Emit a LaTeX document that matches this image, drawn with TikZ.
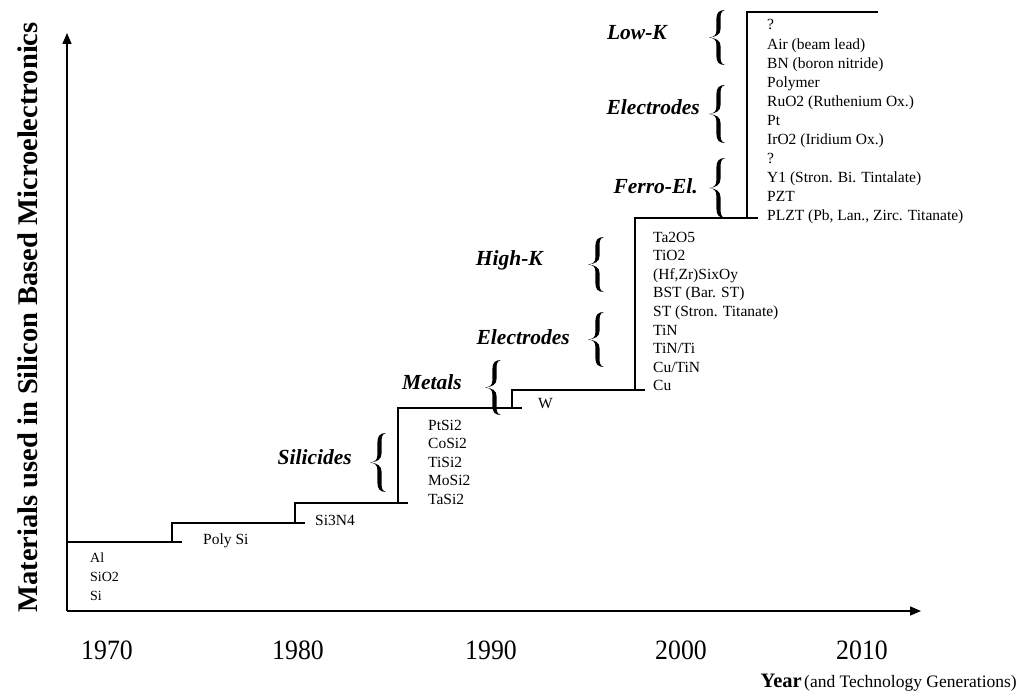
\documentclass[tikz,border=0pt]{standalone}
\usepackage{fontspec}
\setmainfont{Liberation Serif}
\usetikzlibrary{arrows.meta}
% filled curly brace: #1 = stem x, #2 = top y, #3 = bottom y (y grows downward)
\newcommand\brc[3]{%
 \pgfmathsetmacro\bm{(#2+#3)/2}%
 \pgfmathsetmacro\bh{#3-#2}%
 \fill[black] ({#1+7},#2) .. controls ({#1+1},{#2}) and ({#1-1.6},{#2+0.05*\bh}) .. ({#1-1.6},{#2+0.16*\bh})
   -- ({#1-1.6},{\bm-0.13*\bh}) .. controls ({#1-1.6},{\bm-0.04*\bh}) and ({#1-4},{\bm-0.012*\bh}) .. ({#1-9},\bm)
   .. controls ({#1-4},{\bm+0.012*\bh}) and ({#1-1.6},{\bm+0.04*\bh}) .. ({#1-1.6},{\bm+0.13*\bh})
   -- ({#1-1.6},{#3-0.16*\bh}) .. controls ({#1-1.6},{#3-0.05*\bh}) and ({#1+1},#3) .. ({#1+7},#3)
   .. controls ({#1+2.6},{#3-0.02*\bh}) and ({#1+2.6},{#3-0.08*\bh}) .. ({#1+2.6},{#3-0.16*\bh})
   -- ({#1+2.6},{\bm+0.16*\bh}) .. controls ({#1+2.6},{\bm+0.05*\bh}) and ({#1-2},{\bm+0.012*\bh}) .. ({#1-9},\bm)
   .. controls ({#1-2},{\bm-0.012*\bh}) and ({#1+2.6},{\bm-0.05*\bh}) .. ({#1+2.6},{\bm-0.16*\bh})
   -- ({#1+2.6},{#2+0.16*\bh}) .. controls ({#1+2.6},{#2+0.08*\bh}) and ({#1+2.6},{#2+0.02*\bh}) .. ({#1+7},#2) -- cycle;}
\begin{document}
\begin{tikzpicture}[x=1pt,y=-1pt,
  item/.style={font=\fontsize{15.5}{18}\selectfont, inner sep=0pt, anchor=base west},
  smallitem/.style={font=\fontsize{14}{16}\selectfont, inner sep=0pt, anchor=base west},
  cat/.style={font=\fontsize{21.5}{24}\selectfont\bfseries\itshape, inner sep=0pt, anchor=east},
  yr/.style={font=\fontsize{28}{30}\selectfont, inner sep=0pt},
  steps/.style={line width=1.2pt},
  axis/.style={line width=1.5pt, -{Triangle[length=11pt,width=9pt]}}]
\fill[white] (0,0) rectangle (1026,698);
\useasboundingbox (0,0) rectangle (1026,698);
% axes
\coordinate (O) at (67,611);
\coordinate (ytip) at (67,33);
\coordinate (xtip) at (921,611);
\draw[axis] (O) -- (ytip);
\draw[axis] (O) -- (xtip);
% steps
\draw[steps] (67,542) -- (182,542);
\draw[steps] (172,542) -- (172,523) -- (305,523);
\draw[steps] (295,523) -- (295,503) -- (408,503);
\draw[steps] (398,503) -- (398,408) -- (522,408);
\draw[steps] (512,408) -- (512,390) -- (645,390);
\draw[steps] (635,390) -- (635,218) -- (758,218);
\draw[steps] (747,218) -- (747,12) -- (878,12);
% item lists
\foreach \t [count=\i] in {Al, SiO2, Si}
  \node[smallitem] (a\i) at (90, {558+4.6+19*(\i-1)}) {\t};
\node[item] (poly) at (203,544) {Poly Si};
\node[item] (sin) at (315,525) {Si3N4};
\foreach \t [count=\i] in {PtSi2, CoSi2, TiSi2, MoSi2, TaSi2}
  \node[item] (s\i) at (428, {425+5+18.5*(\i-1)}) {\t};
\node[item] (w) at (538,408) {W};
\foreach \t [count=\i] in {Ta2O5, TiO2, {(Hf,Zr)SixOy}, BST (Bar. ST), ST (Stron. Titanate), TiN, TiN/Ti, Cu/TiN, Cu}
  \node[item] (m\i) at (653, {237+5+18.6*(\i-1)}) {\t};
\foreach \t [count=\i] in {?, Air (beam lead), BN (boron nitride), Polymer, RuO2 (Ruthenium Ox.), Pt, IrO2 (Iridium Ox.), ?, Y1 (Stron. Bi. Tintalate), PZT, {PLZT (Pb, Lan., Zirc. Titanate)}}
  \node[item] (r\i) at (767, {25+5+19.1*(\i-1)}) {\t};
% category labels
\node[cat] (lowk) at (667,33) {Low-K};
\node[cat] (elec1) at (700,107) {Electrodes};
\node[cat] (ferro) at (698,186) {Ferro-El.};
\node[cat] (highk) at (543,260) {High-K};
\node[cat] (elec2) at (570,337) {Electrodes};
\node[cat] (metals) at (462,382) {Metals};
\node[cat] (silic) at (352,457) {Silicides};
% braces
\brc{718}{10}{65}
\brc{718}{85}{143}
\brc{718}{158}{218}
\brc{597}{237}{292}
\brc{597}{312}{367}
\brc{494}{360}{415}
\brc{379}{433}{492}
% years
\node[yr] (y1970) at (107,650) {\scalebox{0.92}[1]{1970}};
\node[yr] (y1980) at (298,650) {\scalebox{0.92}[1]{1980}};
\node[yr] (y1990) at (491,650) {\scalebox{0.92}[1]{1990}};
\node[yr] (y2000) at (681,650) {\scalebox{0.92}[1]{2000}};
\node[yr] (y2010) at (862,650) {\scalebox{0.92}[1]{2010}};
% axis labels
\node[rotate=90, font=\fontsize{28.5}{30}\selectfont\bfseries, anchor=base, inner sep=0pt] (ylab) at (37,317.5) {Materials used in Silicon Based Microelectronics};
\node[anchor=base east, inner sep=0pt] (xlab) at (1017,687) {{\fontsize{20.5}{24}\selectfont\bfseries Year} {\fontsize{17.5}{20}\selectfont (and Technology Generations)}};
\end{tikzpicture}
\end{document}
